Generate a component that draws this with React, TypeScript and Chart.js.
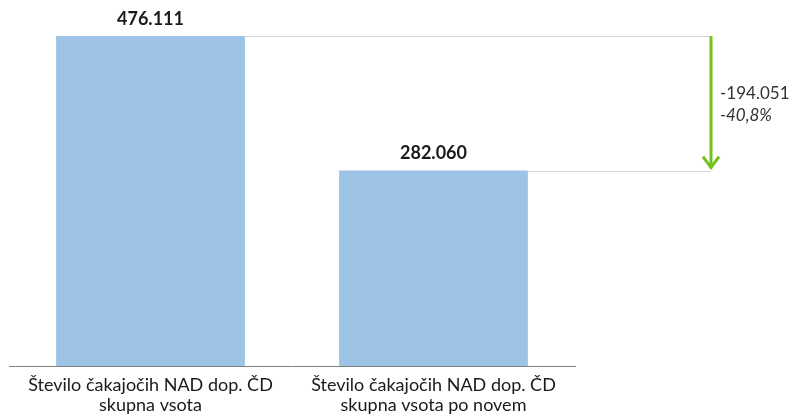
import React, { useEffect, useRef } from "react";
import { Chart, registerables } from "chart.js";

Chart.register(...registerables);

const categories: string[][] = [
  ["Število čakajočih NAD dop. ČD", "skupna vsota"],
  ["Število čakajočih NAD dop. ČD", "skupna vsota po novem"],
];
const values: number[] = [476111, 282060];
const yMax = 500000;

const FONT = "Lato, 'Liberation Sans', Arial, sans-serif";

function fmt(n: number): string {
  const s = Math.abs(Math.round(n)).toString();
  const withDots = s.replace(/\B(?=(\d{3})+(?!\d))/g, ".");
  return (n < 0 ? "-" : "") + withDots;
}

const overlayPlugin = {
  id: "overlay",
  afterDatasetsDraw(chart: any) {
    const ctx = chart.ctx;
    const meta = chart.getDatasetMeta(0);
    const b0 = meta.data[0];
    const b1 = meta.data[1];
    const arrowX = chart.chartArea.right + 136;
    ctx.save();
    // value labels
    ctx.fillStyle = "#1a1a1a";
    ctx.font = `bold 18px ${FONT}`;
    ctx.textAlign = "center";
    ctx.textBaseline = "middle";
    meta.data.forEach((bar: any, i: number) => {
      ctx.fillText(fmt(values[i]), bar.x, bar.y - 17);
    });
    // connector lines
    ctx.strokeStyle = "#d4d4d4";
    ctx.lineWidth = 1;
    ctx.beginPath();
    ctx.moveTo(b0.x + b0.width / 2, Math.round(b0.y) + 0.5);
    ctx.lineTo(arrowX, Math.round(b0.y) + 0.5);
    ctx.moveTo(b1.x + b1.width / 2, Math.round(b1.y) + 0.5);
    ctx.lineTo(arrowX, Math.round(b1.y) + 0.5);
    ctx.stroke();
    // arrow
    ctx.strokeStyle = "#72C11C";
    ctx.lineWidth = 3;
    ctx.beginPath();
    ctx.moveTo(arrowX, b0.y);
    ctx.lineTo(arrowX, b1.y - 2);
    ctx.stroke();
    ctx.beginPath();
    ctx.moveTo(arrowX - 8, b1.y - 14);
    ctx.lineTo(arrowX, b1.y - 3);
    ctx.lineTo(arrowX + 8, b1.y - 14);
    ctx.stroke();
    // diff text
    const diff = values[1] - values[0];
    const pct = (diff / values[0]) * 100;
    const midY = (b0.y + b1.y) / 2;
    ctx.fillStyle = "#333333";
    ctx.textAlign = "left";
    ctx.font = `17px ${FONT}`;
    ctx.fillText(fmt(diff), arrowX + 9, midY - 10);
    ctx.font = `italic 17px ${FONT}`;
    ctx.fillText(pct.toFixed(1).replace(".", ",") + "%", arrowX + 9, midY + 12);
    ctx.restore();
  },
};

export default function App() {
  const ref = useRef<HTMLCanvasElement | null>(null);
  useEffect(() => {
    document.body.style.margin = "0";
    if (!ref.current) return;
    const chart = new Chart(ref.current, {
      type: "bar",
      data: {
        labels: categories,
        datasets: [
          {
            data: values,
            backgroundColor: "#9DC3E6",
            borderWidth: 0,
            categoryPercentage: 0.667,
            barPercentage: 1,
          },
        ],
      },
      options: {
        animation: false,
        responsive: true,
        maintainAspectRatio: false,
        layout: { padding: { left: 9, right: 221, top: 19.5, bottom: -5 } },
        plugins: { legend: { display: false }, tooltip: { enabled: false } },
        scales: {
          y: { display: false, min: 0, max: yMax },
          x: {
            grid: { display: false, drawTicks: false },
            border: { display: true, color: "#7f7f7f", width: 1 },
            ticks: {
              color: "#1a1a1a",
              font: { family: FONT, size: 18, lineHeight: "20px" },
              padding: 9,
              maxRotation: 0,
              autoSkip: false,
            },
          },
        },
      },
      plugins: [overlayPlugin],
    });
    return () => chart.destroy();
  }, []);
  return (
    <div style={{ width: 796, height: 419, position: "relative" }}>
      <canvas ref={ref} />
    </div>
  );
}
